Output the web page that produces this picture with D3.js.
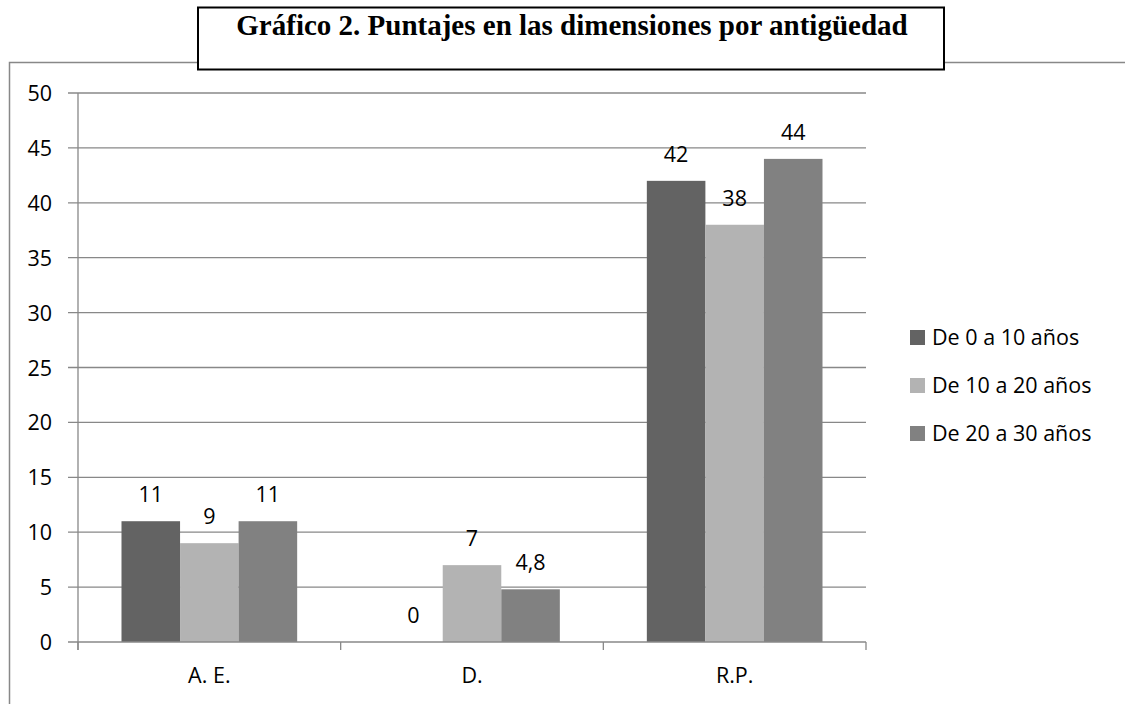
<!DOCTYPE html>
<html><head><meta charset="utf-8">
<script src="https://cdn.jsdelivr.net/npm/d3@7"></script>
<style>body{margin:0;background:#fff}svg{display:block}</style>
</head><body>
<script>
const categories = ["A. E.", "D.", "R.P."];
const seriesNames = ["De 0 a 10 años", "De 10 a 20 años", "De 20 a 30 años"];
const s0 = [11, 0, 42];
const s1 = [9, 7, 38];
const s2 = [11, 4.8, 44];
const yTicks = [0, 5, 10, 15, 20, 25, 30, 35, 40, 45, 50];
const colors = ["#636363", "#b3b3b3", "#818181"];
const title = "Gráfico 2. Puntajes en las dimensiones por antigüedad";

(function () {
const series = [s0, s1, s2];
const W = 1125, H = 704;
const svg = d3.select("body").append("svg").attr("width", W).attr("height", H);
const font = "'Open Sans', sans-serif";
const fs = 21.5;

// outer chart border
svg.append("rect").attr("x", 9.5).attr("y", 62.5).attr("width", W + 20).attr("height", H)
  .attr("fill", "none").attr("stroke", "#888").attr("stroke-width", 1.5);

const pL = 78, pR = 866, pT = 93, pB = 642;
const x = d3.scaleBand().domain(categories).range([pL, pR]);
const y = d3.scaleLinear().domain([0, 50]).range([pB, pT]);
const inner = d3.scaleBand().domain(d3.range(3)).range([43.5, x.bandwidth() - 43.5]).padding(0);

// gridlines
svg.append("g").selectAll("line").data(yTicks.filter(d => d > 0)).join("line")
  .attr("x1", pL - 10).attr("x2", pR).attr("y1", d => y(d)).attr("y2", d => y(d))
  .attr("stroke", "#888").attr("stroke-width", 1.3);

// bars
categories.forEach((c, ci) => {
  series.forEach((s, si) => {
    const v = s[ci];
    svg.append("rect").attr("x", x(c) + inner(si)).attr("width", inner.bandwidth())
      .attr("y", y(v)).attr("height", y(0) - y(v)).attr("fill", colors[si]);
    svg.append("text").attr("x", x(c) + inner(si) + inner.bandwidth() / 2).attr("y", y(v) - 19)
      .attr("text-anchor", "middle").attr("font-family", font).attr("font-size", fs).attr("fill", "#000")
      .text(String(v).replace(".", ","));
  });
});

// y axis
svg.append("line").attr("x1", pL).attr("x2", pL).attr("y1", pT).attr("y2", pB + 8)
  .attr("stroke", "#888").attr("stroke-width", 1.3);
svg.append("line").attr("x1", pL - 10).attr("x2", pR).attr("y1", y(0)).attr("y2", y(0))
  .attr("stroke", "#888").attr("stroke-width", 1.3);
svg.append("g").selectAll("text").data(yTicks).join("text")
  .attr("x", 52).attr("y", d => y(d) + 8).attr("text-anchor", "end")
  .attr("font-family", font).attr("font-size", fs).attr("fill", "#000").text(d => d);

// x ticks
const xt = categories.map(c => x(c)).concat([pR]);
svg.append("g").selectAll("line").data(xt).join("line")
  .attr("x1", d => d).attr("x2", d => d).attr("y1", pB).attr("y2", pB + 8)
  .attr("stroke", "#888").attr("stroke-width", 1.3);
svg.append("g").selectAll("text").data(categories).join("text")
  .attr("x", d => x(d) + x.bandwidth() / 2).attr("y", 683).attr("text-anchor", "middle")
  .attr("font-family", font).attr("font-size", fs).attr("fill", "#000").text(d => d);

// legend
const lg = svg.append("g");
seriesNames.forEach((n, i) => {
  const by = 345 + i * 48;
  lg.append("rect").attr("x", 910).attr("y", by - 15).attr("width", 15).attr("height", 15).attr("fill", colors[i]);
  lg.append("text").attr("x", 932).attr("y", by).attr("font-family", font)
    .attr("font-size", fs).attr("fill", "#000").text(n);
});

// title box
svg.append("rect").attr("x", 198).attr("y", 7.5).attr("width", 746).attr("height", 62)
  .attr("fill", "#fff").attr("stroke", "#000").attr("stroke-width", 2);
svg.append("text").attr("x", 572).attr("y", 35).attr("text-anchor", "middle")
  .attr("font-family", "'Liberation Serif', 'Times New Roman', serif").attr("font-weight", "bold")
  .attr("font-size", 29).attr("fill", "#000").text(title);
})();
</script>
</body></html>
